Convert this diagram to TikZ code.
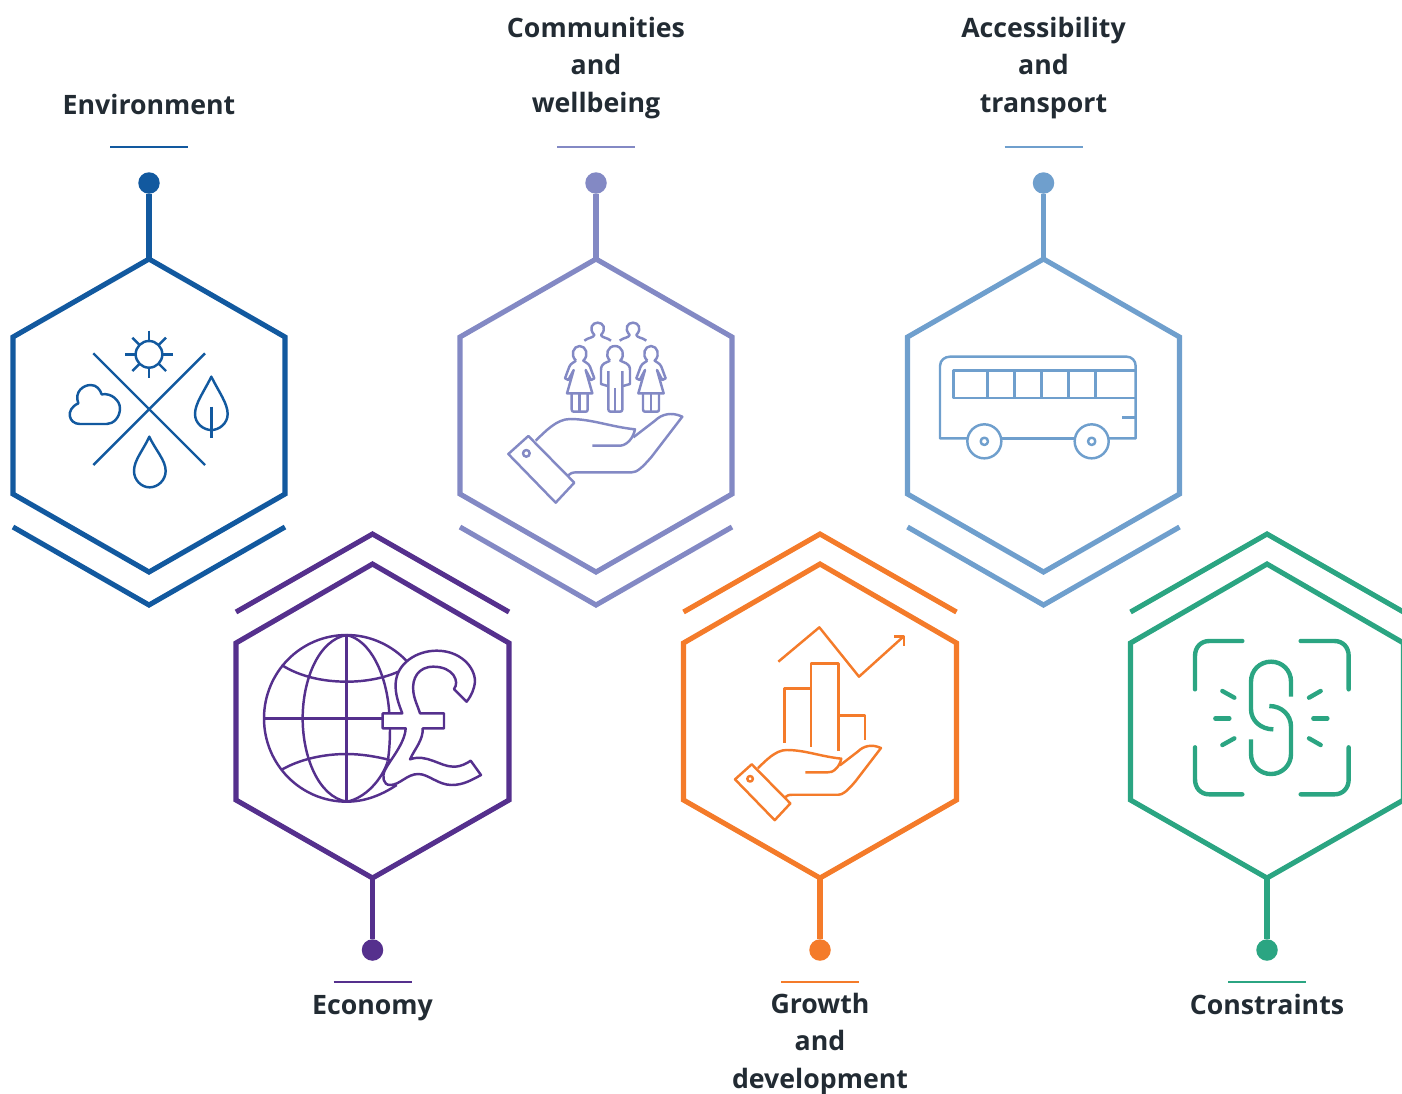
\documentclass[tikz,border=0pt]{standalone}
\usepackage{fontspec}
\setmainfont{Open Sans}
\definecolor{cenv}{HTML}{12599F}
\definecolor{ccom}{HTML}{8389C4}
\definecolor{cacc}{HTML}{6F9FCD}
\definecolor{ceco}{HTML}{55308D}
\definecolor{cgro}{HTML}{F47B2A}
\definecolor{ccon}{HTML}{2BA582}
\definecolor{ctxt}{HTML}{222B33}
\tikzset{
  hexline/.style={line width=2.9pt,miter limit=10},
  stemline/.style={line width=3pt},
  ruleline/.style={line width=1.3pt},
  enddot/.style={circle,fill,inner sep=0pt,minimum size=0.43cm},
  labeltext/.style={font=\fontsize{15.2}{21.3}\selectfont\bfseries,text=ctxt,align=center,inner sep=0pt},
  iconline/.style={line width=1.4pt,line join=round},
  chainline/.style={line width=2.5pt,line cap=round},
  zoomed/.style={scale=0.33333}
}
% #1 name, #2 centre x, #3 colour, #4 label
\newcommand{\upunit}[5]{%
  \begin{scope}[shift={(#2,0)},color=#3]
    \draw[hexline] (0,259) -- (136,337) -- (136,494) -- (0,572) -- (-136,494) -- (-136,337) -- cycle;
    \draw[hexline] (-136,527) -- (0,605) -- (136,527);
    \coordinate (#1top) at (0,259);
    \node[enddot,fill=#3] (#1dot) at (0,183) {};
    \draw[stemline] (#1dot) -- (#1top);
    \coordinate (#1ra) at (-39,147);
    \coordinate (#1rb) at (39,147);
    \draw[ruleline] (#1ra) -- (#1rb);
    \node[labeltext] (#1label) at (0,#4) {#5};
  \end{scope}}
\newcommand{\downunit}[5]{%
  \begin{scope}[shift={(#2,0)},color=#3]
    \draw[hexline] (0,564) -- (136.5,643) -- (136.5,800) -- (0,878) -- (-136.5,800) -- (-136.5,643) -- cycle;
    \draw[hexline] (-136.5,612) -- (0,534) -- (136.5,612);
    \coordinate (#1bot) at (0,878);
    \node[enddot,fill=#3] (#1dot) at (0,950) {};
    \draw[stemline] (#1dot) -- (#1bot);
    \coordinate (#1ra) at (-39,982);
    \coordinate (#1rb) at (39,982);
    \draw[ruleline] (#1ra) -- (#1rb);
    \node[labeltext] (#1label) at (0,#4) {#5};
  \end{scope}}
\newcommand{\handicon}{%
  \draw (40,432) -- (100,378) -- (238,518) -- (182,578) -- cycle;
  \draw (94,430) circle (10);
  \draw (122,392) .. controls (150,365) and (185,327) .. (225,327) .. controls (290,327) and (345,350) .. (420,358) .. controls (418,370) and (410,385) .. (405,390) .. controls (390,407) and (380,407) .. (370,407) -- (292,407);
  \draw (415,382) -- (480,332) .. controls (500,312) and (530,305) .. (562,320) -- (470,440) .. controls (440,475) and (425,487) .. (410,487) -- (245,487) .. controls (232,487) and (225,490) .. (218,497);
}
\newcommand{\backperson}{%
  \draw (268,92) .. controls (280,82) and (295,84) .. (298,75) .. controls (280,55) and (292,38) .. (308,38) .. controls (324,38) and (336,55) .. (318,75) .. controls (321,84) and (336,82) .. (348,92);
}
\newcommand{\womanicon}{%
  \draw (243,152) .. controls (225,135) and (235,108) .. (254,108) .. controls (273,108) and (283,135) .. (265,152) .. controls (270,158) and (280,158) .. (285,170) -- (298,205) -- (288,210) -- (272,180) -- (292,250) -- (216,250) -- (236,180) -- (220,210) -- (210,205) -- (223,170) .. controls (228,158) and (238,158) .. (243,152);
  \draw (230,252) -- (230,298) .. controls (230,303) and (232,305) .. (236,305) -- (272,305) .. controls (276,305) and (278,303) .. (278,298) -- (278,252);
  \draw (254,252) -- (254,305);
}
\begin{document}
\begin{tikzpicture}[x=0.02cm,y=-0.02cm]
\useasboundingbox (0,0) rectangle (1402,1093);
\clip (0,0) rectangle (1402,1093);

\upunit{env}{149}{cenv}{104}{Environment}
\upunit{com}{596}{ccom}{68}{Communities\\and\\wellbeing}
\upunit{acc}{1043.5}{cacc}{68}{Accessibility\\and\\transport}
\downunit{eco}{372.5}{ceco}{1008}{Economy}
\downunit{gro}{820}{cgro}{1044}{Growth\\and\\development}
\downunit{con}{1267}{ccon}{1004}{Constraints}

% Environment icon
\begin{scope}[shift={(50,310)},zoomed,color=cenv,iconline]
  \draw (130,130) -- (465,465);
  \draw (465,130) -- (130,465);
  \draw (297,133) circle (40);
  \draw (297,62) -- (297,92);
  \draw (297,175) -- (297,205);
  \draw (225,133) -- (255,133);
  \draw (340,133) -- (370,133);
  \draw (247,83) -- (268,104);
  \draw (348,83) -- (327,104);
  \draw (247,183) -- (268,162);
  \draw (348,183) -- (327,162);
  \draw (90,342) .. controls (55,342) and (45,298) .. (85,280) .. controls (72,245) and (100,225) .. (122,225) .. controls (140,225) and (150,238) .. (155,253) .. controls (185,248) and (210,272) .. (210,295) .. controls (210,322) and (190,342) .. (170,342) -- cycle;
  \draw (484,200) .. controls (462,245) and (435,280) .. (435,312) .. controls (435,340) and (460,360) .. (484,360) .. controls (508,360) and (533,340) .. (533,312) .. controls (533,280) and (506,245) .. (484,200) -- cycle;
  \draw (484,290) -- (484,385);
  \draw (298,380) .. controls (280,420) and (252,450) .. (252,483) .. controls (252,510) and (274,532) .. (299,532) .. controls (324,532) and (347,510) .. (347,483) .. controls (347,450) and (316,420) .. (298,380) -- cycle;
\end{scope}

% Communities icon
\begin{scope}[shift={(495,310)},zoomed,color=ccom,iconline]
  \handicon
  \backperson
  \begin{scope}[shift={(106,0)}]\backperson\end{scope}
  \womanicon
  \begin{scope}[shift={(214,0)}]\womanicon\end{scope}
  \draw (345,152) .. controls (328,135) and (338,108) .. (360,108) .. controls (382,108) and (392,135) .. (376,152) .. controls (385,158) and (405,158) .. (405,180) -- (405,222) -- (384,228);
  \draw (345,152) .. controls (336,158) and (318,158) .. (318,180) -- (318,222) -- (338,228);
  \draw (340,183) -- (340,298) .. controls (340,303) and (343,305) .. (347,305) -- (375,305) .. controls (380,305) and (382,303) .. (382,298) -- (382,183);
  \draw (360,235) -- (360,305);
\end{scope}

% Accessibility icon
\begin{scope}[shift={(925,340)},zoomed,color=cacc,iconline]
  \draw (126,295) -- (45,295) -- (45,78) .. controls (45,60) and (60,50) .. (75,50) -- (605,50) .. controls (620,50) and (632,62) .. (632,78) -- (632,295) -- (552,295);
  \draw (230,295) -- (448,295);
  \draw (632,92) -- (85,92) -- (85,174) -- (632,174);
  \foreach \xx in {187,268,349,430,511} \draw (\xx,92) -- (\xx,174);
  \draw (592,233) -- (632,233);
  \draw (178,304) circle (51);
  \draw (178,304) circle (11);
  \draw (500,304) circle (51);
  \draw (500,304) circle (11);
\end{scope}

% Economy icon
\begin{scope}[shift={(250,620)},zoomed,color=ceco,iconline]
  \draw (472,125) .. controls (425,75) and (360,45) .. (290,45) .. controls (152,45) and (42,157) .. (42,295) .. controls (42,433) and (152,545) .. (290,545) .. controls (345,545) and (395,525) .. (440,495);
  \draw (290,45) -- (290,545);
  \draw (290,45) .. controls (205,60) and (158,180) .. (158,295) .. controls (158,410) and (205,530) .. (290,545) .. controls (345,535) and (395,480) .. (413,425);
  \draw (290,45) .. controls (360,60) and (410,160) .. (418,280);
  \draw (420,325) .. controls (420,360) and (418,395) .. (413,425);
  \draw (95,135) .. controls (150,170) and (220,185) .. (290,185) .. controls (345,185) and (400,175) .. (445,155);
  \draw (97,448) .. controls (150,418) and (220,402) .. (290,402) .. controls (335,402) and (380,410) .. (420,420);
  \draw (42,295) -- (398,295);
  \draw (437,190) .. controls (440,130) and (500,92) .. (560,92) .. controls (630,92) and (675,140) .. (675,185) .. controls (672,210) and (665,225) .. (650,245) -- (612,207) .. controls (630,185) and (610,140) .. (550,140) .. controls (505,140) and (485,175) .. (490,215) .. controls (493,240) and (505,262) .. (510,280) -- (582,280) -- (582,325) -- (518,325) .. controls (520,360) and (495,385) .. (480,418) .. controls (530,400) and (570,440) .. (610,440) .. controls (635,440) and (650,430) .. (662,422) -- (693,465) .. controls (665,480) and (640,495) .. (605,495) .. controls (565,495) and (535,462) .. (505,462) .. controls (470,462) and (450,495) .. (420,495) .. controls (400,495) and (395,470) .. (405,450) .. controls (420,420) and (465,370) .. (467,325) -- (398,325) -- (398,280) -- (457,280) .. controls (445,250) and (435,220) .. (437,190) -- cycle;
\end{scope}

% Growth icon
\begin{scope}[shift={(725,620)},zoomed,color=cgro,iconline]
  \draw (160,125) -- (283,22) -- (402,170) -- (535,50);
  \draw (507,50) -- (537,50) -- (537,78);
  \draw (178,368) -- (178,205) -- (258,205);
  \draw (258,380) -- (258,130) -- (340,130) -- (340,392);
  \draw (340,287) -- (420,287) -- (420,360);
  \begin{scope}[shift={(-3.6,115.6)},scale=0.839]\handicon\end{scope}
\end{scope}

% Constraints icon
\begin{scope}[shift={(1180,630)},zoomed,color=ccon,chainline]
  \draw (45,178) -- (45,78) .. controls (45,52) and (62,33) .. (88,33) -- (187,33);
  \draw (362,33) -- (463,33) .. controls (489,33) and (506,52) .. (506,78) -- (506,178);
  \draw (45,352) -- (45,448) .. controls (45,474) and (62,493) .. (88,493) -- (187,493);
  \draw (362,493) -- (463,493) .. controls (489,493) and (506,474) .. (506,448) -- (506,352);
  \draw (127,183) -- (163,203);
  \draw (106,265) -- (148,265);
  \draw (127,345) -- (163,325);
  \draw (422,183) -- (387,203);
  \draw (400,265) -- (442,265);
  \draw (422,345) -- (387,325);
  \draw[line cap=butt] (333,200) -- (333,155) .. controls (333,120) and (306,95) .. (273,95) .. controls (240,95) and (213,120) .. (213,155) -- (213,238) .. controls (213,272) and (243,298) .. (280,298);
  \draw[line cap=butt] (268,228) .. controls (305,228) and (333,255) .. (333,290) -- (333,372) .. controls (333,406) and (306,432) .. (273,432) .. controls (240,432) and (213,406) .. (213,372) -- (213,328);
\end{scope}
\end{tikzpicture}
\end{document}
